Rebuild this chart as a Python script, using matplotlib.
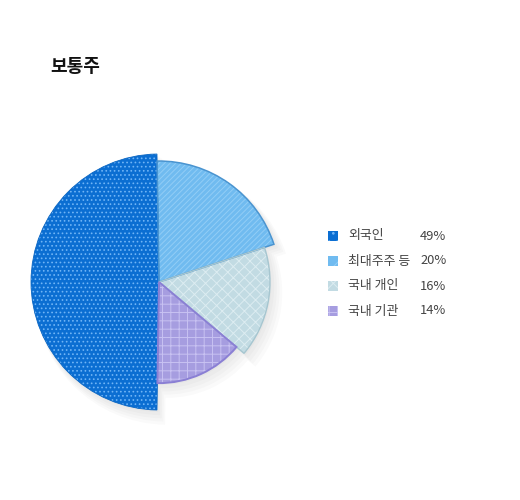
import matplotlib
matplotlib.use("Agg")
import matplotlib.pyplot as plt
from matplotlib.patches import Wedge, Rectangle

plt.rcParams['font.family'] = ['Noto Sans CJK KR', 'DejaVu Sans']
plt.rcParams['hatch.linewidth'] = 0.7

# data
labels = ["외국인", "최대주주 등", "국내 개인", "국내 기관"]
shares = [49, 20, 16, 14]

# styles (per slice)
radii = [1.0, 0.945, 0.867, 0.79]
fills = ["#0b6ed2", "#70bbf0", "#c2dbe3", "#a69de0"]
edges = ["#0b66c2", "#4a94d0", "#a6c6d0", "#8a7fd4"]
edge_w = [0.6, 1.1, 1.0, 1.4]
hatch_cols = ["#6fb4f6", "#92cdf6", "#dcecf1", "#c8c2f2"]
hatches = ["....", "//////", "xxx", "++"]

fig = plt.figure(figsize=(5.2, 5.0), dpi=100)
fig.patch.set_facecolor("white")

# pie axes, centred at pixel (159, 282), outer radius 128 px
R = 128
half = 150
ax = fig.add_axes([(159 - half) / 520, (500 - 282 - half) / 500,
                   2 * half / 520, 2 * half / 500])

gap = 180 - 360 * shares[0] / sum(shares)
wedges, _ = ax.pie(shares, startangle=270 - gap / 2, counterclock=False,
                   radius=1.0, wedgeprops=dict(linewidth=0))
ax.set_xlim(-half / R, half / R)
ax.set_ylim(-half / R, half / R)
ax.set_aspect("equal")
ax.axis("off")

# soft shadow towards the lower right
for w, r in zip(wedges, radii):
    for k in range(5):
        off = 0.012 + k * 0.013
        ax.add_patch(Wedge((off, -off * 1.3), r + 0.008 * k, w.theta1, w.theta2,
                           facecolor="#000000", alpha=0.02, linewidth=0, zorder=0))

for i, (w, r) in enumerate(zip(wedges, radii)):
    w.set_radius(r)
    w.set_facecolor(fills[i])
    w.set_zorder(2)
    ax.add_patch(Wedge(w.center, r, w.theta1, w.theta2, facecolor="none",
                       edgecolor=hatch_cols[i], hatch=hatches[i], linewidth=0,
                       zorder=3))
    ax.add_patch(Wedge(w.center, r, w.theta1, w.theta2, facecolor="none",
                       edgecolor=edges[i], linewidth=edge_w[i], zorder=4))

# title
fig.text(50 / 520, 1 - 66 / 500, "보통주", fontsize=13, fontweight="bold",
         color="#111111", va="center", ha="left")

# legend
for i, lab in enumerate(labels):
    y = 236 + 25 * i
    fig.patches.append(Rectangle((328 / 520, 1 - (y + 5) / 500), 10 / 520, 10 / 500,
                                 transform=fig.transFigure, facecolor=fills[i],
                                 edgecolor="none", figure=fig))
    fig.patches.append(Rectangle((328 / 520, 1 - (y + 5) / 500), 10 / 520, 10 / 500,
                                 transform=fig.transFigure, facecolor="none",
                                 edgecolor=hatch_cols[i], hatch=hatches[i][:2],
                                 linewidth=0, figure=fig))
    fig.text(348 / 520, 1 - y / 500, lab, fontsize=9.3, color="#444444",
             va="center", ha="left")
    fig.text(420 / 520, 1 - y / 500, f"{shares[i]}%", fontsize=9.3, color="#444444",
             va="center", ha="left")

fig.savefig("out.png", dpi=100, facecolor="white")
